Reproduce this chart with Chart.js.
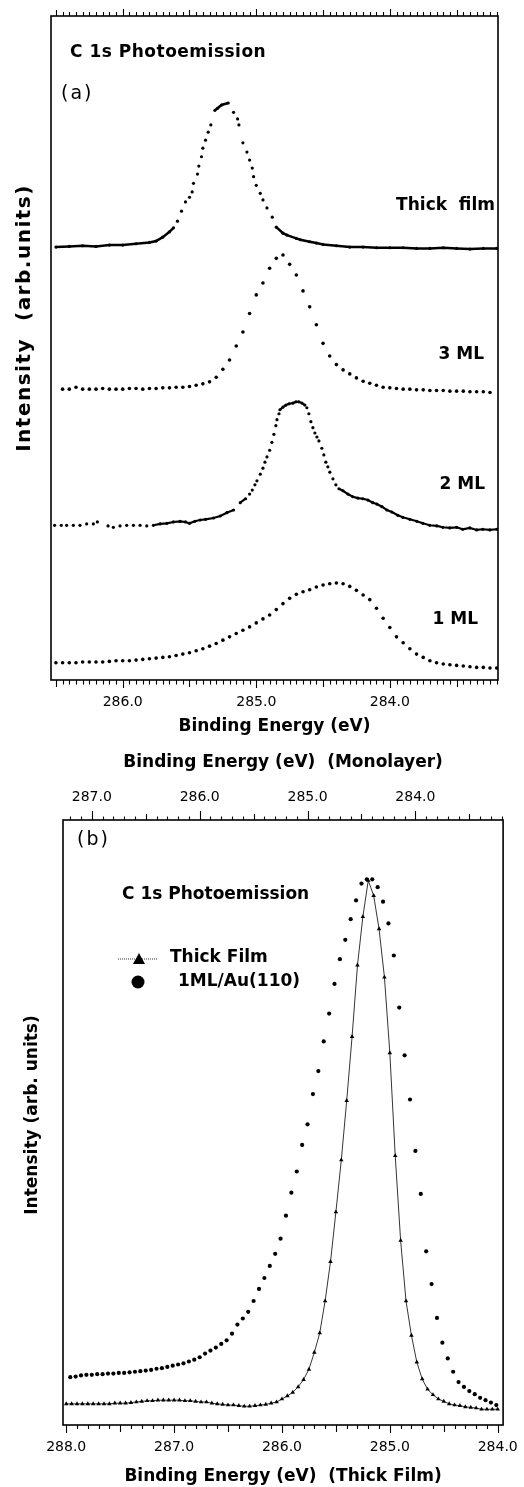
<!DOCTYPE html>
<html>
<head>
<meta charset="utf-8">
<script src="https://cdn.jsdelivr.net/npm/chart.js@4.4.1/dist/chart.umd.min.js"></script>
<style>
html, body { margin: 0; padding: 0; background: #fff; }
#wrapA { position: absolute; left: 0; top: 0; }
#wrapB { position: absolute; left: 0; top: 740px; }
</style>
</head>
<body>
<div id="wrapA"><canvas id="chartA" width="524" height="740"></canvas></div>
<div id="wrapB"><canvas id="chartB" width="524" height="747"></canvas></div>
<script>
// ---- panel (a): C 1s, binding energy (eV) vs intensity (arb. units, offset curves)
var tickLabelsA = [286, 285, 284];

var thickE_a = [286.50, 286.40, 286.30, 286.20, 286.10, 286.00, 285.90, 285.80, 285.75, 285.70, 285.65, 285.62, 285.59, 285.56, 285.53, 285.50, 285.48, 285.47, 285.44, 285.43, 285.41, 285.40, 285.38, 285.36, 285.34, 285.31, 285.29, 285.26, 285.21, 285.17, 285.14, 285.13, 285.10, 285.07, 285.05, 285.03, 285.02, 285.00, 284.97, 284.95, 284.92, 284.88, 284.85, 284.80, 284.77, 284.70, 284.67, 284.60, 284.55, 284.50, 284.40, 284.30, 284.20, 284.10, 284.00, 283.90, 283.80, 283.70, 283.60, 283.50, 283.40, 283.30, 283.20];
var thickI_a = [65.2, 65.3, 65.4, 65.3, 65.5, 65.5, 65.7, 65.9, 66.1, 66.7, 67.5, 68.1, 69.1, 70.6, 72.0, 72.7, 73.5, 74.8, 76.2, 77.4, 78.8, 80.1, 81.3, 82.5, 83.6, 85.8, 86.1, 86.6, 86.9, 85.5, 84.5, 83.6, 80.9, 79.5, 78.3, 77.1, 75.8, 74.5, 73.3, 72.3, 71.1, 69.7, 68.2, 67.3, 67.0, 66.5, 66.3, 66.0, 65.8, 65.6, 65.4, 65.2, 65.2, 65.1, 65.1, 65.1, 65.0, 65.0, 65.1, 65.0, 64.9, 65.0, 65.0];

var ml3E = [286.45, 286.40, 286.35, 286.30, 286.25, 286.20, 286.15, 286.10, 286.05, 286.00, 285.95, 285.90, 285.85, 285.80, 285.75, 285.70, 285.65, 285.60, 285.55, 285.50, 285.45, 285.40, 285.35, 285.30, 285.25, 285.20, 285.15, 285.10, 285.05, 285.00, 284.95, 284.90, 284.85, 284.80, 284.75, 284.70, 284.65, 284.60, 284.55, 284.50, 284.45, 284.40, 284.35, 284.30, 284.25, 284.20, 284.15, 284.10, 284.05, 284.00, 283.95, 283.90, 283.85, 283.80, 283.75, 283.70, 283.65, 283.60, 283.55, 283.50, 283.45, 283.40, 283.35, 283.30, 283.25];
var ml3I = [43.8, 43.8, 44.1, 43.8, 43.8, 43.8, 43.9, 43.8, 43.8, 43.8, 43.9, 43.9, 43.8, 43.9, 43.9, 44.0, 44.0, 44.1, 44.1, 44.2, 44.4, 44.6, 44.9, 45.6, 46.8, 48.2, 50.3, 52.4, 55.2, 58.0, 59.8, 62.0, 63.5, 64.0, 62.6, 61.0, 58.6, 56.2, 53.5, 50.7, 48.8, 47.5, 46.7, 46.1, 45.5, 45.0, 44.7, 44.4, 44.1, 44.0, 43.9, 43.8, 43.8, 43.7, 43.7, 43.6, 43.6, 43.6, 43.5, 43.5, 43.5, 43.4, 43.4, 43.4, 43.3];

var ml2E = [286.51, 286.46, 286.42, 286.37, 286.32, 286.27, 286.22, 286.19, 286.11, 286.07, 286.02, 285.97, 285.92, 285.87, 285.82, 285.77, 285.72, 285.67, 285.62, 285.57, 285.53, 285.50, 285.46, 285.42, 285.38, 285.32, 285.27, 285.22, 285.17, 285.12, 285.08, 285.05, 285.03, 285.01, 284.995, 284.97, 284.95, 284.935, 284.92, 284.90, 284.883, 284.868, 284.853, 284.845, 284.83, 284.823, 284.80, 284.778, 284.755, 284.725, 284.703, 284.681, 284.658, 284.636, 284.621, 284.606, 284.591, 284.576, 284.561, 284.546, 284.531, 284.509, 284.494, 284.479, 284.464, 284.449, 284.426, 284.404, 284.381, 284.351, 284.314, 284.277, 284.239, 284.202, 284.164, 284.127, 284.097, 284.059, 284.022, 283.985, 283.94, 283.903, 283.85, 283.798, 283.753, 283.701, 283.648, 283.603, 283.551, 283.499, 283.454, 283.401, 283.349, 283.304, 283.251, 283.199];
var ml2I = [23.3, 23.3, 23.3, 23.3, 23.3, 23.5, 23.5, 23.8, 23.2, 23.0, 23.2, 23.3, 23.3, 23.3, 23.2, 23.3, 23.5, 23.6, 23.8, 23.9, 23.8, 23.6, 23.9, 24.1, 24.2, 24.4, 24.7, 25.2, 25.6, 26.7, 27.3, 28.0, 28.6, 29.4, 30.0, 31.0, 31.9, 32.8, 33.6, 34.6, 35.8, 37.0, 38.3, 39.2, 40.1, 40.7, 41.1, 41.4, 41.6, 41.7, 41.9, 41.9, 41.7, 41.4, 41.0, 40.1, 38.9, 38.0, 37.2, 36.6, 36.0, 34.9, 33.9, 32.8, 32.1, 31.3, 30.3, 29.4, 28.8, 28.5, 28.0, 27.6, 27.4, 27.3, 27.1, 26.7, 26.5, 26.1, 25.6, 25.3, 24.8, 24.5, 24.2, 23.9, 23.6, 23.3, 23.2, 23.0, 22.9, 23.0, 22.7, 22.9, 22.6, 22.7, 22.6, 22.7];

var ml1E = [286.50, 286.45, 286.40, 286.35, 286.30, 286.25, 286.20, 286.15, 286.10, 286.05, 286.00, 285.95, 285.90, 285.85, 285.80, 285.75, 285.70, 285.65, 285.60, 285.55, 285.50, 285.45, 285.40, 285.35, 285.30, 285.25, 285.20, 285.15, 285.10, 285.05, 285.00, 284.95, 284.90, 284.85, 284.80, 284.75, 284.70, 284.65, 284.60, 284.55, 284.50, 284.45, 284.40, 284.35, 284.30, 284.25, 284.20, 284.15, 284.10, 284.05, 284.00, 283.95, 283.90, 283.85, 283.80, 283.75, 283.70, 283.65, 283.60, 283.55, 283.50, 283.45, 283.40, 283.35, 283.30, 283.25, 283.20];
var ml1I = [2.6, 2.6, 2.6, 2.6, 2.7, 2.7, 2.7, 2.7, 2.8, 2.9, 2.9, 2.9, 3.0, 3.1, 3.2, 3.3, 3.4, 3.5, 3.7, 3.9, 4.1, 4.4, 4.7, 5.1, 5.5, 6.0, 6.5, 7.0, 7.5, 8.0, 8.6, 9.2, 9.8, 10.6, 11.5, 12.3, 12.9, 13.3, 13.6, 14.0, 14.3, 14.5, 14.6, 14.5, 14.1, 13.5, 12.8, 12.1, 10.8, 9.3, 7.9, 6.5, 5.6, 4.7, 3.9, 3.4, 2.9, 2.6, 2.4, 2.3, 2.2, 2.1, 2.0, 1.9, 1.9, 1.8, 1.8];

// ---- panel (b): thick film (bottom axis) vs 1ML/Au(110) (top axis)
var tickLabelsB = [288, 287, 286, 285, 284];
var tickLabelsBTop = [287, 286, 285, 284];

var thickE_b = [288.00, 287.95, 287.90, 287.85, 287.80, 287.75, 287.70, 287.65, 287.60, 287.55, 287.50, 287.45, 287.40, 287.35, 287.30, 287.25, 287.20, 287.15, 287.10, 287.05, 287.00, 286.95, 286.90, 286.85, 286.80, 286.75, 286.70, 286.65, 286.60, 286.55, 286.50, 286.45, 286.40, 286.35, 286.30, 286.25, 286.20, 286.15, 286.10, 286.05, 286.00, 285.95, 285.90, 285.85, 285.80, 285.75, 285.70, 285.65, 285.60, 285.55, 285.50, 285.45, 285.40, 285.35, 285.30, 285.25, 285.20, 285.15, 285.10, 285.05, 285.00, 284.95, 284.90, 284.85, 284.80, 284.75, 284.70, 284.65, 284.60, 284.55, 284.50, 284.45, 284.40, 284.35, 284.30, 284.25, 284.20, 284.15, 284.10, 284.05, 284.00];
var thickI_b = [3.5, 3.5, 3.5, 3.5, 3.5, 3.5, 3.5, 3.5, 3.5, 3.6, 3.6, 3.6, 3.7, 3.8, 3.9, 4.0, 4.0, 4.1, 4.1, 4.1, 4.1, 4.1, 4.0, 4.0, 3.9, 3.8, 3.8, 3.6, 3.5, 3.4, 3.3, 3.3, 3.2, 3.1, 3.1, 3.2, 3.3, 3.4, 3.6, 3.8, 4.3, 4.8, 5.4, 6.3, 7.5, 9.2, 12.0, 15.2, 20.5, 27.0, 35.2, 43.8, 53.6, 64.2, 76.0, 84.0, 90.0, 87.5, 82.0, 74.0, 61.5, 44.5, 30.5, 20.5, 14.8, 10.4, 7.6, 5.9, 5.0, 4.3, 3.9, 3.5, 3.3, 3.2, 3.0, 2.9, 2.8, 2.6, 2.6, 2.6, 2.6];

var mlE_b = [287.20, 287.15, 287.10, 287.05, 287.00, 286.95, 286.90, 286.85, 286.80, 286.75, 286.70, 286.65, 286.60, 286.55, 286.50, 286.45, 286.40, 286.35, 286.30, 286.25, 286.20, 286.15, 286.10, 286.05, 286.00, 285.95, 285.90, 285.85, 285.80, 285.75, 285.70, 285.65, 285.60, 285.55, 285.50, 285.45, 285.40, 285.35, 285.30, 285.25, 285.20, 285.15, 285.10, 285.05, 285.00, 284.95, 284.90, 284.85, 284.80, 284.75, 284.70, 284.65, 284.60, 284.55, 284.50, 284.45, 284.40, 284.35, 284.30, 284.25, 284.20, 284.15, 284.10, 284.05, 284.00, 283.95, 283.90, 283.85, 283.80, 283.75, 283.70, 283.65, 283.60, 283.55, 283.50, 283.45, 283.40, 283.35, 283.30, 283.25];
var mlI_b = [7.9, 8.0, 8.2, 8.3, 8.3, 8.4, 8.4, 8.5, 8.5, 8.6, 8.6, 8.7, 8.8, 8.9, 9.0, 9.1, 9.3, 9.4, 9.6, 9.8, 10.0, 10.2, 10.5, 10.8, 11.2, 11.8, 12.3, 12.8, 13.4, 14.0, 15.1, 16.6, 17.6, 18.7, 20.5, 22.5, 24.3, 26.3, 28.3, 30.8, 34.6, 38.4, 41.9, 46.3, 49.7, 54.7, 58.5, 63.4, 68.0, 72.9, 77.0, 80.2, 83.6, 86.7, 89.5, 90.2, 90.2, 88.9, 86.5, 82.9, 77.6, 69.0, 61.1, 53.8, 45.3, 38.2, 28.7, 23.3, 17.7, 13.6, 11.0, 8.8, 7.1, 6.3, 5.6, 5.1, 4.5, 4.1, 3.7, 3.3];

Chart.defaults.font.family = "'DejaVu Sans', sans-serif";
Chart.defaults.color = '#000';

function pts(xs, ys) {
    return xs.map(function(x, i) { return { x: x, y: ys[i] }; });
}
function flatSeg(ctx) {
    return Math.abs(ctx.p1.y - ctx.p0.y) <= Math.abs(ctx.p1.x - ctx.p0.x);
}

var decorPlugin = {
    id: 'decor',
    afterDraw: function(chart, args, opts) {
        var c = chart.ctx, a = chart.chartArea;
        c.save();
        c.strokeStyle = '#000';
        c.lineWidth = 1.6;
        c.strokeRect(a.left, a.top, a.right - a.left, a.bottom - a.top);
        c.lineWidth = 1.1;
        (opts.ticks || []).forEach(function(t) {
            var s = chart.scales[t.scale];
            var y0 = t.side === 'top' ? a.top : a.bottom;
            var dir = t.side === 'top' ? -1 : 1;
            var lo = Math.min(s.min, s.max), hi = Math.max(s.min, s.max);
            var n0 = Math.ceil(lo / t.step - 1e-6), n1 = Math.floor(hi / t.step + 1e-6);
            for (var n = n0; n <= n1; n++) {
                var v = n * t.step;
                var len = t.minor;
                if (Math.abs(v - Math.round(v)) < 1e-6) len = t.whole;
                else if (Math.abs(v * 2 - Math.round(v * 2)) < 1e-6) len = t.half;
                var px = Math.round(s.getPixelForValue(v)) + 0.5;
                c.beginPath();
                c.moveTo(px, y0);
                c.lineTo(px, y0 + dir * len);
                c.stroke();
            }
        });
        (opts.legend || []).forEach(function(m) {
            c.fillStyle = '#000';
            if (m.kind === 'triangle') {
                c.save();
                c.lineWidth = 0.8;
                c.setLineDash([1, 1]);
                c.beginPath();
                c.moveTo(m.x - 21, m.y);
                c.lineTo(m.x + 19, m.y);
                c.stroke();
                c.restore();
                c.beginPath();
                c.moveTo(m.x, m.y - 6);
                c.lineTo(m.x + 6, m.y + 5);
                c.lineTo(m.x - 6, m.y + 5);
                c.closePath();
                c.fill();
            } else {
                c.beginPath();
                c.arc(m.x, m.y, 6.5, 0, Math.PI * 2);
                c.fill();
            }
        });
        (opts.texts || []).forEach(function(t) {
            c.save();
            c.fillStyle = '#000';
            c.font = (t.bold ? 'bold ' : '') + t.size + "px 'DejaVu Sans', sans-serif";
            c.letterSpacing = (t.sp || 0) + 'px';
            c.textAlign = t.align || 'left';
            c.textBaseline = 'middle';
            c.translate(t.x, t.y);
            if (t.rot) c.rotate(t.rot);
            c.fillText(t.t, 0, 0);
            c.restore();
        });
        c.restore();
    }
};

new Chart(document.getElementById('chartA'), {
    type: 'scatter',
    data: {
        datasets: [
            { label: 'Thick film', data: pts(thickE_a, thickI_a), showLine: true, borderWidth: 2.5,
              borderColor: '#000', backgroundColor: '#000', pointRadius: 1.6, pointBorderWidth: 0,
              segment: { borderColor: function(ctx) { return flatSeg(ctx) ? '#000' : 'rgba(0,0,0,0)'; } } },
            { label: '3 ML', data: pts(ml3E, ml3I), showLine: false,
              backgroundColor: '#000', borderColor: '#000', pointRadius: 1.8, pointBorderWidth: 0 },
            { label: '2 ML', data: pts(ml2E, ml2I), showLine: true, borderWidth: 2.2,
              borderColor: '#000', backgroundColor: '#000', pointRadius: 1.6, pointBorderWidth: 0,
              segment: { borderColor: function(ctx) {
                  return (flatSeg(ctx) && ctx.p0.parsed.x < 285.8) ? '#000' : 'rgba(0,0,0,0)';
              } } },
            { label: '1 ML', data: pts(ml1E, ml1I), showLine: false,
              backgroundColor: '#000', borderColor: '#000', pointRadius: 1.8, pointBorderWidth: 0 }
        ]
    },
    options: {
        responsive: false,
        animation: false,
        layout: { padding: { top: 16, right: 26, left: 0, bottom: 0 } },
        plugins: {
            legend: { display: false },
            tooltip: { enabled: false },
            decor: {
                ticks: [
                    { scale: 'x', side: 'bottom', step: 0.05, minor: 4.5, half: 7, whole: 8 },
                    { scale: 'x', side: 'top', step: 0.05, minor: 4, half: 6, whole: 7 }
                ],
                texts: [
                    { t: 'C 1s Photoemission', x: 70, y: 53, size: 17, bold: true, sp: 0.5 },
                    { t: '(a)', x: 61, y: 94, size: 19, sp: 2 },
                    { t: 'Thick  film', x: 495, y: 206, size: 17, bold: true, align: 'right' },
                    { t: '3 ML', x: 484, y: 355, size: 17, bold: true, align: 'right' },
                    { t: '2 ML', x: 485, y: 485, size: 17, bold: true, align: 'right' },
                    { t: '1 ML', x: 478, y: 620, size: 17, bold: true, align: 'right' },
                    { t: 'Intensity  (arb.units)', x: 25, y: 318, size: 20, bold: true, sp: 1.5, align: 'center', rot: -Math.PI / 2 }
                ]
            }
        },
        scales: {
            x: {
                type: 'linear', reverse: true, min: 283.19, max: 286.537,
                afterBuildTicks: function(s) { s.ticks = tickLabelsA.map(function(v) { return { value: v }; }); },
                afterFit: function(s) { s.height = 60; },
                ticks: { font: { size: 14 }, color: '#000', padding: 6, maxRotation: 0, autoSkip: false,
                         callback: function(v) { return Number(v).toFixed(1); } },
                grid: { display: true, drawOnChartArea: false, drawTicks: true, tickLength: 8, tickColor: 'rgba(0,0,0,0)' },
                border: { display: false },
                title: { display: true, text: 'Binding Energy (eV)', font: { size: 17, weight: 'bold' }, color: '#000',
                         padding: { top: 0, bottom: 3 } }
            },
            y: {
                min: 0, max: 100,
                afterFit: function(s) { s.width = 51; },
                ticks: { display: false },
                grid: { display: false },
                border: { display: false }
            }
        }
    },
    plugins: [decorPlugin]
});

new Chart(document.getElementById('chartB'), {
    type: 'scatter',
    data: {
        datasets: [
            { label: 'Thick Film', xAxisID: 'x', data: pts(thickE_b, thickI_b), showLine: true, borderWidth: 0.8,
              borderColor: '#000', backgroundColor: '#000', pointStyle: 'triangle', pointRadius: 2.6, pointBorderWidth: 0 },
            { label: '1ML/Au(110)', xAxisID: 'x2', data: pts(mlE_b, mlI_b), showLine: false,
              borderColor: '#000', backgroundColor: '#000', pointRadius: 2.1, pointBorderWidth: 0 }
        ]
    },
    options: {
        responsive: false,
        animation: false,
        layout: { padding: { top: 0, right: 19, left: 0, bottom: 0 } },
        plugins: {
            legend: { display: false },
            tooltip: { enabled: false },
            decor: {
                ticks: [
                    { scale: 'x', side: 'bottom', step: 0.1, minor: 4, half: 7, whole: 8 },
                    { scale: 'x2', side: 'top', step: 0.1, minor: 3.5, half: 6, whole: 9 }
                ],
                legend: [
                    { kind: 'triangle', x: 139, y: 219 },
                    { kind: 'circle', x: 138, y: 242 }
                ],
                texts: [
                    { t: '(b)', x: 77, y: 100, size: 19, sp: 2 },
                    { t: 'C 1s Photoemission', x: 122, y: 155, size: 17, bold: true, sp: 0 },
                    { t: 'Thick Film', x: 170, y: 218, size: 17, bold: true },
                    { t: '1ML/Au(110)', x: 178, y: 242, size: 17, bold: true },
                    { t: 'Intensity (arb. units)', x: 33, y: 375, size: 17, bold: true, align: 'center', rot: -Math.PI / 2 }
                ]
            }
        },
        scales: {
            x: {
                type: 'linear', position: 'bottom', reverse: true, min: 283.95, max: 288.03,
                afterBuildTicks: function(s) { s.ticks = tickLabelsB.map(function(v) { return { value: v }; }); },
                afterFit: function(s) { s.height = 62; },
                ticks: { font: { size: 14 }, color: '#000', padding: 6, maxRotation: 0, autoSkip: false,
                         callback: function(v) { return Number(v).toFixed(1); } },
                grid: { display: true, drawOnChartArea: false, drawTicks: true, tickLength: 8, tickColor: 'rgba(0,0,0,0)' },
                border: { display: false },
                title: { display: true, text: 'Binding Energy (eV)  (Thick Film)', font: { size: 17, weight: 'bold' }, color: '#000',
                         padding: { top: 0, bottom: 0 } }
            },
            x2: {
                type: 'linear', position: 'top', reverse: true, min: 283.187, max: 287.267,
                afterBuildTicks: function(s) { s.ticks = tickLabelsBTop.map(function(v) { return { value: v }; }); },
                afterFit: function(s) { s.height = 80; },
                ticks: { font: { size: 14 }, color: '#000', padding: 6, maxRotation: 0, autoSkip: false,
                         callback: function(v) { return Number(v).toFixed(1); } },
                grid: { display: true, drawOnChartArea: false, drawTicks: true, tickLength: 8, tickColor: 'rgba(0,0,0,0)' },
                border: { display: false },
                title: { display: true, text: 'Binding Energy (eV)  (Monolayer)', font: { size: 17, weight: 'bold' }, color: '#000',
                         padding: { top: 12, bottom: 0 } }
            },
            y: {
                min: 0, max: 100,
                afterFit: function(s) { s.width = 63; },
                ticks: { display: false },
                grid: { display: false },
                border: { display: false }
            }
        }
    },
    plugins: [decorPlugin]
});
</script>
</body>
</html>
